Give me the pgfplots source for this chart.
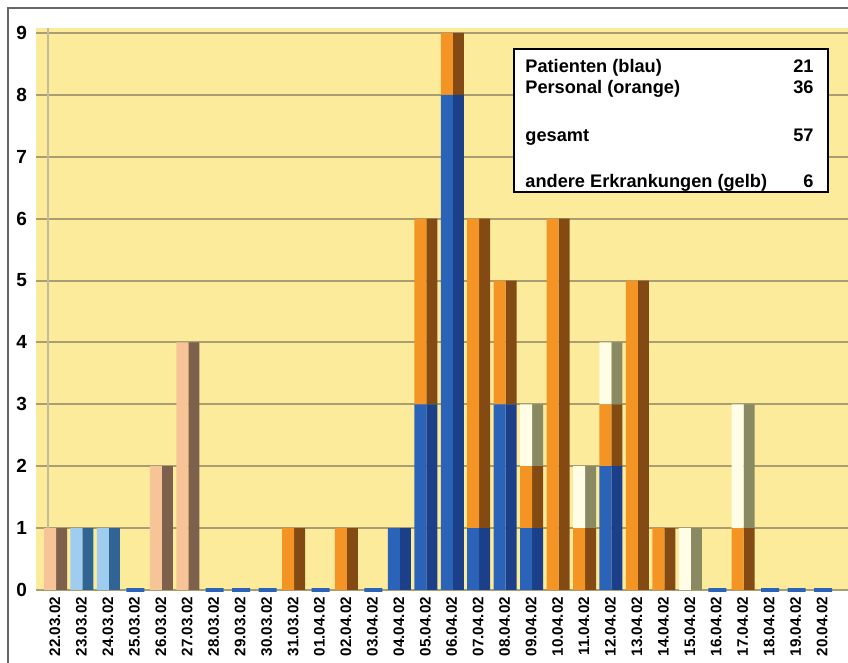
\documentclass[border=0pt]{standalone}
\usepackage{fontspec}
\setmainfont{Liberation Sans}
\usepackage{pgfplots}
\usepackage{pgfplotstable}
\pgfplotsset{compat=1.18}

\definecolor{bgyellow}{HTML}{FCEB9A}
\definecolor{gridc}{HTML}{A89E72}
\definecolor{blueF}{HTML}{2B63B9}
\definecolor{blueS}{HTML}{1C3F8A}
\definecolor{pblueF}{HTML}{9ECDF0}
\definecolor{pblueS}{HTML}{2F6494}
\definecolor{orangeF}{HTML}{F39424}
\definecolor{orangeS}{HTML}{834A14}
\definecolor{porangeF}{HTML}{F6C496}
\definecolor{porangeS}{HTML}{7D614C}
\definecolor{otherF}{HTML}{FFFDE6}
\definecolor{otherS}{HTML}{8A8A62}

\pgfplotstableread{
x blue pblue orange porange other
0  0 0 0 1 0
1  0 1 0 0 0
2  0 1 0 0 0
3  0 0 0 0 0
4  0 0 0 2 0
5  0 0 0 4 0
6  0 0 0 0 0
7  0 0 0 0 0
8  0 0 0 0 0
9  0 0 1 0 0
10 0 0 0 0 0
11 0 0 1 0 0
12 0 0 0 0 0
13 1 0 0 0 0
14 3 0 3 0 0
15 8 0 1 0 0
16 1 0 5 0 0
17 3 0 2 0 0
18 1 0 1 0 1
19 0 0 6 0 0
20 0 0 1 0 1
21 2 0 1 0 1
22 0 0 5 0 0
23 0 0 1 0 0
24 0 0 0 0 1
25 0 0 0 0 0
26 0 0 1 0 2
27 0 0 0 0 0
28 0 0 0 0 0
29 0 0 0 0 0
}\data

\pgfplotstableread{
x y
3  0
6  0
7  0
8  0
10 0
12 0
25 0
27 0
28 0
29 0
}\zerodays

\pgfplotsset{common/.style={
  at={(18pt,36.5pt)}, anchor=south west, scale only axis,
  width=406pt, height=281pt,
  xmin=-0.53, xmax=30.17, ymin=0, ymax=9.08,
  clip=false}}

\begin{document}
\begin{tikzpicture}
\useasboundingbox (0,0) rectangle (424pt,331.5pt);
% outer frame
\draw[gray!80!black, line width=0.8pt] (4pt,0) -- (4pt,327.5pt) -- (424pt,327.5pt);

% axis 1: background, grid, labels, side faces
\begin{axis}[common,
  ybar stacked,
  axis background/.style={fill=bgyellow},
  axis line style={draw=none},
  ytick={0,...,9},
  ymajorgrids, grid style={gridc, line width=1pt},
  /pgf/number format/assume math mode=true,
  yticklabel style={font=\bfseries\fontsize{9.5}{10}\selectfont, xshift=-1pt},
  xtick={0,...,29},
  xticklabels={22.03.02,23.03.02,24.03.02,25.03.02,26.03.02,27.03.02,28.03.02,29.03.02,30.03.02,31.03.02,01.04.02,02.04.02,03.04.02,04.04.02,05.04.02,06.04.02,07.04.02,08.04.02,09.04.02,10.04.02,11.04.02,12.04.02,13.04.02,14.04.02,15.04.02,16.04.02,17.04.02,18.04.02,19.04.02,20.04.02},
  xticklabel style={rotate=90, anchor=east, font=\bfseries\fontsize{7.6}{8}\selectfont, yshift=-2.5pt},
  xtick style={draw=none}, ytick style={draw=none},
]
\addplot[draw=none, fill=blueS, bar width=5.5pt, bar shift=5.75pt] table[x=x,y=blue]{\data};
\addplot[draw=none, fill=pblueS, bar width=5.5pt, bar shift=5.75pt] table[x=x,y=pblue]{\data};
\addplot[draw=none, fill=orangeS, bar width=5.5pt, bar shift=5.75pt] table[x=x,y=orange]{\data};
\addplot[draw=none, fill=porangeS, bar width=5.5pt, bar shift=5.75pt] table[x=x,y=porange]{\data};
\addplot[draw=none, fill=otherS, bar width=5.5pt, bar shift=5.75pt] table[x=x,y=other]{\data};
\end{axis}

% left wall edge
\draw[gridc!70, line width=0.8pt] (24pt,36.5pt) -- (24pt,317.5pt);

% axis 2: front faces
\begin{axis}[common, ybar stacked, hide axis]
\addplot[draw=none, fill=blueF, bar width=6pt, bar shift=0pt] table[x=x,y=blue]{\data};
\addplot[draw=none, fill=pblueF, bar width=6pt, bar shift=0pt] table[x=x,y=pblue]{\data};
\addplot[draw=none, fill=orangeF, bar width=6pt, bar shift=0pt] table[x=x,y=orange]{\data};
\addplot[draw=none, fill=porangeF, bar width=6pt, bar shift=0pt] table[x=x,y=porange]{\data};
\addplot[draw=none, fill=otherF, bar width=6pt, bar shift=0pt] table[x=x,y=other]{\data};
\end{axis}

% axis 3: empty days (flat floor of a bar)
\begin{axis}[common, ybar, hide axis]
\addplot[draw=blueF, line width=1.6pt, bar width=9pt, bar shift=3pt] table[x=x,y=y]{\zerodays};
\end{axis}

% info box
\draw[black, line width=0.6pt, fill=white] (257pt,235.5pt) rectangle (414pt,307pt);
\begin{scope}[font=\bfseries\fontsize{9.1}{10}\selectfont, inner sep=0pt]
\node[anchor=base west] at (262.5pt,295pt) {Patienten (blau)};
\node[anchor=base east] at (407pt,295pt) {21};
\node[anchor=base west] at (262.5pt,284.5pt) {Personal (orange)};
\node[anchor=base east] at (407pt,284.5pt) {36};
\node[anchor=base west] at (262.5pt,260.5pt) {gesamt};
\node[anchor=base east] at (407pt,260.5pt) {57};
\node[anchor=base west] at (262.5pt,237.5pt) {andere Erkrankungen (gelb)};
\node[anchor=base east] at (407pt,237.5pt) {6};
\end{scope}
\end{tikzpicture}
\end{document}
